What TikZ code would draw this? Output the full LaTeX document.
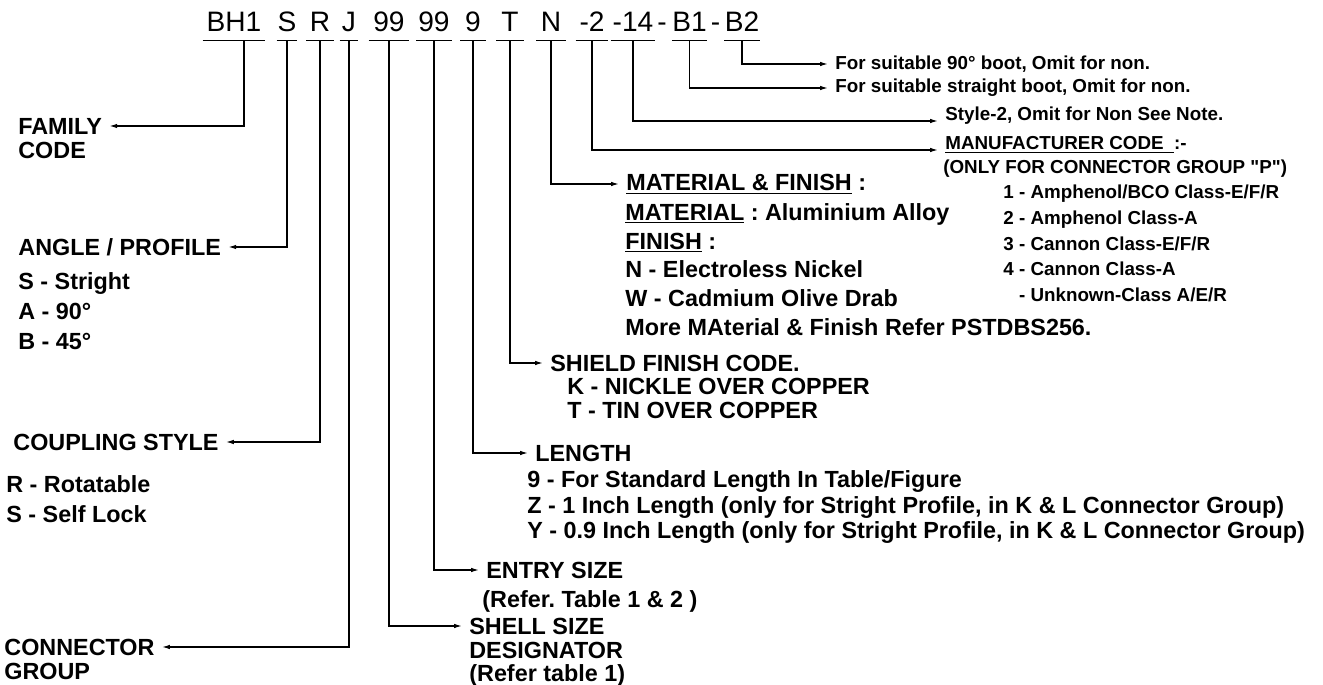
\documentclass[tikz,border=0pt]{standalone}
\usepackage{fontspec}
\setmainfont[Ligatures=TeXOff]{Liberation Sans}
\usetikzlibrary{arrows.meta, positioning}
\frenchspacing
\newcommand{\codeseg}[4]{%
    \node[code, minimum width=#3*0.02cm] (#1) at (#2,32) {#4};%
    \draw[uline] (#1.south west) -- (#1.south east);%
}

\begin{document}
\begin{tikzpicture}[
        x=0.02cm,
        y=-0.02cm,
        code/.style={font=\fontsize{16}{20}\selectfont, anchor=base, inner xsep=0pt, inner ysep=4.5pt, text depth=0pt},
        uline/.style={line width=0.75pt},
        lead/.style={line width=0.75pt, -{Latex[length=4.5pt,width=2.6pt]}},
        head/.style={font=\bfseries\fontsize{13.3}{16}\selectfont, inner xsep=4pt, inner ysep=2pt},
        sub/.style={font=\bfseries\fontsize{13.3}{#1}\selectfont, align=left, anchor=north west, inner sep=0pt},
        sub/.default=16pt,
        note/.style={font=\bfseries\fontsize{10.7}{13}\selectfont, inner xsep=4pt, inner ysep=2pt},
        nsub/.style={font=\bfseries\fontsize{10.7}{#1}\selectfont, align=left, anchor=north west, inner sep=0pt},
        nsub/.default=13pt
    ]
        \useasboundingbox (0,0) rectangle (1323,685);

        % === PART NUMBER ===
        % \codeseg{name}{x centre}{underline length}{text}
        \codeseg{cfam}{234}{62}{BH1}
        \codeseg{cang}{287}{20}{S}
        \codeseg{ccpl}{320}{27}{R}
        \codeseg{cgrp}{349}{18}{J}
        \codeseg{cshell}{389}{40}{99}
        \codeseg{centry}{434}{35}{99}
        \codeseg{clen}{473}{25}{9}
        \codeseg{cshld}{510}{27}{T}
        \codeseg{cmat}{551}{29}{N}
        \codeseg{cmfr}{592}{32}{-2}
        \codeseg{csty}{633}{44}{-14}
        \codeseg{cbta}{689.5}{33}{B1}
        \codeseg{cbtb}{742}{35}{B2}
        \node[code] (dasha) at (662,32) {-};
        \node[code] (dashb) at (715.5,32) {-};

        % === LEFT LABELS ===
        \node[head, anchor=west] (family) at (11,126) {FAMILY};
        \node[sub] (familysub) at (18,142) {CODE};
        \node[head, anchor=west] (angle) at (11,247) {ANGLE / PROFILE};
        \node[sub=17pt] (anglesub) at (18,272) {S - Stright\\A - 90°\\B - 45°};
        \node[head, anchor=west] (coupling) at (6,442) {COUPLING STYLE};
        \node[sub=17pt] (couplingsub) at (6,475) {R - Rotatable\\S - Self Lock};
        \node[head, anchor=west] (connector) at (-3,647) {CONNECTOR};
        \node[sub] (connectorsub) at (4,663) {GROUP};

        % === RIGHT LABELS ===
        \node[note, anchor=west] (b2note) at (828,64) {For suitable 90° boot, Omit for non.};
        \node[note, anchor=west] (b1note) at (828,88) {For suitable straight boot, Omit for non.};
        \node[note, anchor=base west] (stylenote) at (938,121) {Style-2, Omit for Non See Note.};
        \node[note, anchor=base west] (mfr) at (938,150) {\underline{MANUFACTURER CODE\ \ }:-};
        \node[nsub] (mfrsub) at (943,160) {(ONLY FOR CONNECTOR GROUP "P")};
        \node[nsub=14.6pt] (mfrlist) at (1003,185) {1 - Amphenol/BCO Class-E/F/R\\2 - Amphenol Class-A\\3 - Cannon Class-E/F/R\\4 - Cannon Class-A\\\phantom{4 }- Unknown-Class A/E/R};
        \node[head, anchor=west] (material) at (619,184) {\underline{MATERIAL \& FINISH} :};
        \node[sub=16.4pt] (materialsub) at (625,203) {\underline{MATERIAL} : Aluminium Alloy\\\underline{FINISH} :\\N - Electroless Nickel\\W - Cadmium Olive Drab\\More MAterial \& Finish Refer PSTDBS256.};
        \node[head, anchor=west] (shield) at (543,363) {SHIELD FINISH CODE.};
        \node[sub=13.6pt] (shieldsub) at (567,378) {K - NICKLE OVER COPPER\\T - TIN OVER COPPER};
        \node[head, anchor=west] (length) at (528,453) {LENGTH};
        \node[sub=14.7pt] (lengthsub) at (527,470) {9 - For Standard Length In Table/Figure\\Z - 1 Inch Length (only for Stright Profile, in K \& L Connector Group)\\Y - 0.9 Inch Length (only for Stright Profile, in K \& L Connector Group)};
        \node[head, anchor=west] (entry) at (479,570) {ENTRY SIZE};
        \node[sub] (entrysub) at (482,590) {(Refer. Table 1 \& 2 )};
        \node[head, anchor=west] (shell) at (462,626) {SHELL SIZE};
        \node[sub=12.8pt] (shellsub) at (469,642) {DESIGNATOR\\(Refer table 1)};

        % === LEADERS ===
        \draw[lead] ([xshift=0.2cm]cfam.south) |- (family.east);
        \draw[lead] (cang.south) |- (angle.east);
        \draw[lead] (ccpl.south) |- (coupling.east);
        \draw[lead] (cgrp.south) |- (connector.east);
        \draw[lead] (cshell.south) |- (shell.west);
        \draw[lead] (centry.south) |- (entry.west);
        \draw[lead] (clen.south) |- (length.west);
        \draw[lead] (cshld.south) |- (shield.west);
        \draw[lead] (cmat.south) |- (material.west);
        \draw[lead] (cmfr.south) |- (mfr.base west);
        \draw[lead] (csty.south) |- (stylenote.base west);
        \draw[lead] (cbta.south) |- (b1note.west);
        \draw[lead] (cbtb.south) |- (b2note.west);
    \end{tikzpicture}
\end{document}
